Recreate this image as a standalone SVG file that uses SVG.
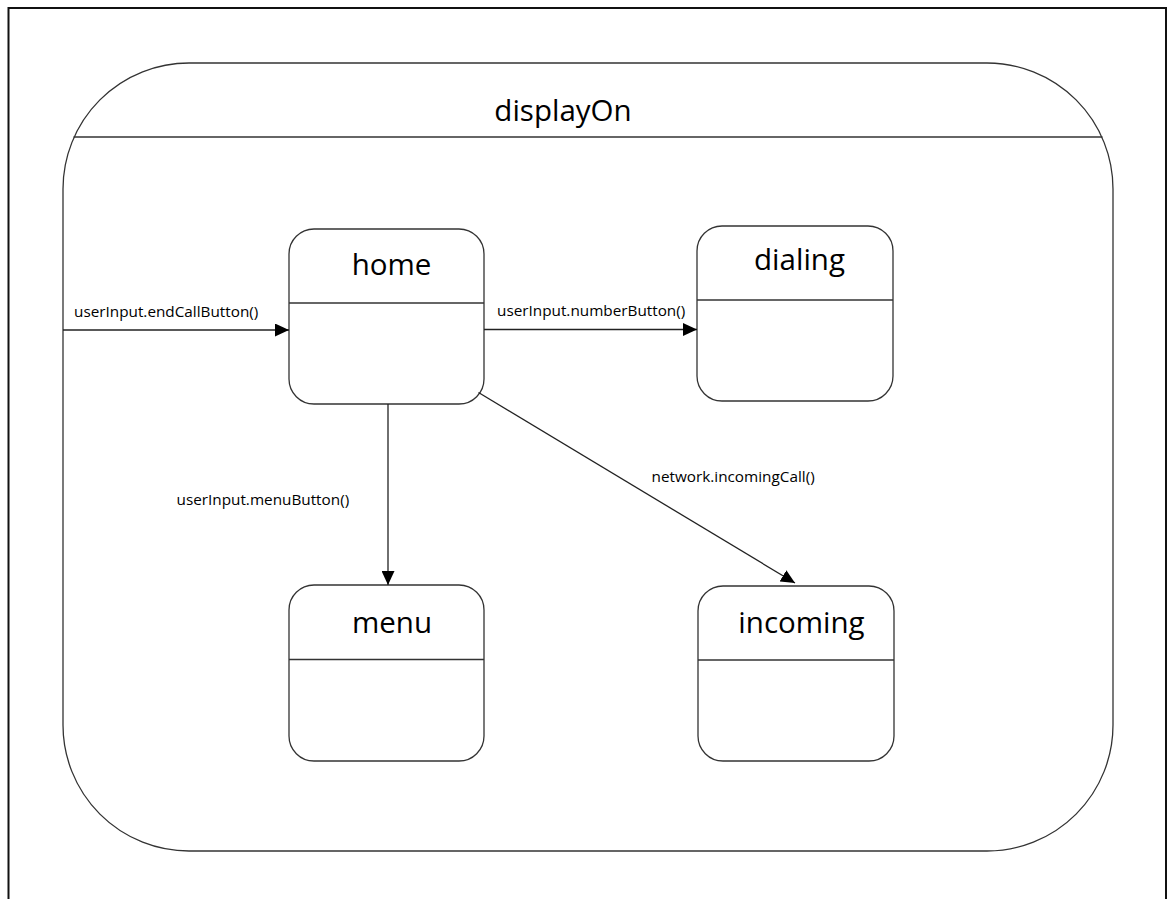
<svg xmlns="http://www.w3.org/2000/svg" width="1170" height="899" viewBox="0 0 1170 899">
  <style>
    .frame { fill: none; stroke: #111; stroke-width: 2; }
    .shape { fill: none; stroke: #333; stroke-width: 1.3; }
    .edge { fill: none; stroke: #222; stroke-width: 1.3; }
    .title { font-family: "Open Sans", "Liberation Sans", sans-serif; font-size: 29.5px; fill: #000; text-anchor: middle; }
    .label { font-family: "Open Sans", "Liberation Sans", sans-serif; font-size: 15.3px; fill: #000; }
  </style>
  <defs>
    <marker id="arrow" markerUnits="userSpaceOnUse" markerWidth="14" markerHeight="13" refX="14" refY="6.5" orient="auto">
      <path d="M0,0 L14,6.5 L0,13 Z" fill="#000"/>
    </marker>
  </defs>

  <rect width="1170" height="899" fill="#fff"/>
  <!-- page frame -->
  <rect class="frame" x="8.5" y="8" width="1157.5" height="1000"/>

  <!-- composite state -->
  <g id="displayOn">
    <rect class="shape" x="63" y="63" width="1050" height="788" rx="126" ry="126"/>
    <line class="shape" x1="73.5" y1="137" x2="1102.5" y2="137"/>
    <text class="title" x="563" y="120.5">displayOn</text>
  </g>

  <g id="home">
    <rect class="shape" x="289" y="229" width="195" height="175" rx="25" ry="25"/>
    <line class="shape" x1="289" y1="303" x2="484" y2="303"/>
    <text class="title" x="391.5" y="275">home</text>
  </g>

  <g id="dialing">
    <rect class="shape" x="697" y="226" width="196" height="175" rx="25" ry="25"/>
    <line class="shape" x1="697" y1="300" x2="893" y2="300"/>
    <text class="title" x="799.5" y="270">dialing</text>
  </g>

  <g id="menu">
    <rect class="shape" x="289" y="585" width="195" height="176" rx="25" ry="25"/>
    <line class="shape" x1="289" y1="659.5" x2="484" y2="659.5"/>
    <text class="title" x="392" y="632.5">menu</text>
  </g>

  <g id="incoming">
    <rect class="shape" x="698" y="586" width="196" height="175" rx="25" ry="25"/>
    <line class="shape" x1="698" y1="660" x2="894" y2="660"/>
    <text class="title" x="801.5" y="632.5">incoming</text>
  </g>

  <!-- transitions -->
  <g id="connectors">
    <line class="edge" x1="63" y1="330" x2="289" y2="330" marker-end="url(#arrow)"/>
    <text class="label" x="74" y="316.5">userInput.endCallButton()</text>

    <line class="edge" x1="484" y1="329.5" x2="697" y2="329.5" marker-end="url(#arrow)"/>
    <text class="label" x="497" y="316">userInput.numberButton()</text>

    <line class="edge" x1="388" y1="404" x2="388" y2="585" marker-end="url(#arrow)"/>
    <text class="label" x="176.5" y="505">userInput.menuButton()</text>

    <line class="edge" x1="478.5" y1="392.5" x2="795" y2="583" marker-end="url(#arrow)"/>
    <text class="label" x="651.5" y="482">network.incomingCall()</text>
  </g>
</svg>
